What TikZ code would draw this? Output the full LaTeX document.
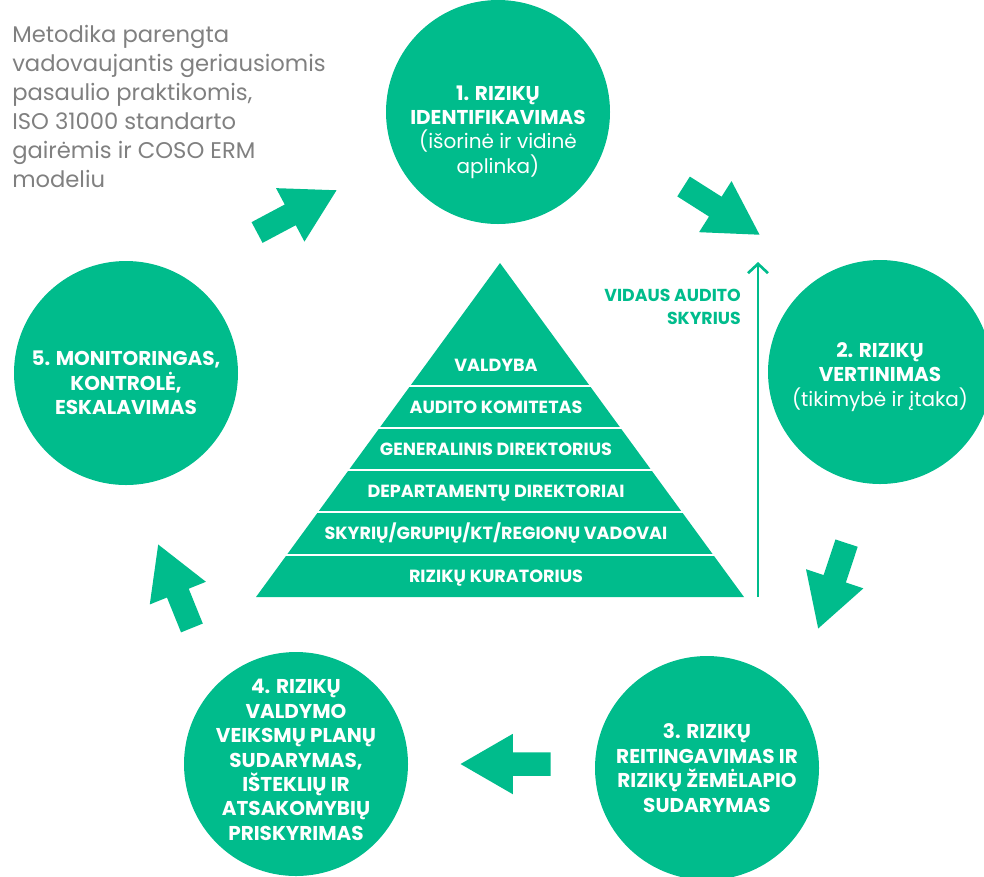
\documentclass[tikz,border=0pt]{standalone}
\usepackage{fontspec}
\setmainfont{Poppins}
\usetikzlibrary{positioning,shapes.arrows,arrows.meta}
\definecolor{riskgreen}{RGB}{0,188,140}
\definecolor{notegray}{RGB}{128,128,128}
\tikzset{>={Straight Barb[length=7pt,width=15pt]}}

\begin{document}
\begin{tikzpicture}[x=0.75pt,y=-0.75pt,
    phase/.style={circle,fill=riskgreen,minimum size=168pt,inner sep=0pt},
    phasetxt/.style={text=white,align=center,inner sep=0pt,
                     font=\bfseries\fontsize{15}{18.3}\selectfont},
    cyclearrow/.style={single arrow,fill=riskgreen,anchor=tip,
                       inner xsep=0pt,inner ysep=8.6pt,minimum height=67.5pt,
                       single arrow head extend=13.9pt,single arrow tip angle=60},
    level/.style={text=white,inner sep=0pt,text height=9.3pt,text depth=0pt,
                  font=\bfseries\fontsize{13.2}{15}\selectfont}]
  \useasboundingbox (0,0) rectangle (984,876);

  % the five steps of the cycle
  \node[phase] (c1) at (498,112) {};
  \node[phase] (c2) at (880,372) {};
  \node[phase] (c3) at (707,768) {};
  \node[phase] (c4) at (296,764) {};
  \node[phase] (c5) at (126,373) {};

  \node[phasetxt] (t1) at (498,132) {1. RIZIKŲ\\IDENTIFIKAVIMAS\\{\mdseries (išorinė ir vidinė}\\{\mdseries aplinka)}};
  \node[phasetxt] (t2) at (880,377) {2. RIZIKŲ\\VERTINIMAS\\{\mdseries (tikimybė ir įtaka)}};
  \node[phasetxt] (t3) at (707,768) {3. RIZIKŲ\\REITINGAVIMAS IR\\RIZIKŲ ŽEMĖLAPIO\\SUDARYMAS};
  \node[phasetxt] (t4) at (296,760) {4. RIZIKŲ\\VALDYMO\\VEIKSMŲ PLANŲ\\SUDARYMAS,\\IŠTEKLIŲ IR\\ATSAKOMYBIŲ\\PRISKYRIMAS};
  \node[phasetxt] (t5) at (126,383) {5. MONITORINGAS,\\KONTROLĖ,\\ESKALAVIMAS};

  % arrows between the steps
  \node[cyclearrow,rotate=28]     (a51) at (337,190) {};
  \node[cyclearrow,rotate=-32.4]  (a12) at (760,235) {};
  \node[cyclearrow,rotate=-108.4] (a23) at (818,629) {};
  \node[cyclearrow,rotate=180]    (a34) at (460,764) {};
  \node[cyclearrow,rotate=112]    (a45) at (158,544) {};

  % pyramid
  \coordinate (apex)  at (500,263);
  \coordinate (baseL) at (256,597);
  \coordinate (baseR) at (744,597);
  \fill[riskgreen] (apex) -- (baseL) -- (baseR) -- cycle;
  \foreach \y in {386,428,470,512,555}
    \draw[white,line width=2.2pt] (250,\y) -- (750,\y);
  \foreach \y/\txt in {365/VALDYBA,407/AUDITO KOMITETAS,449/GENERALINIS DIREKTORIUS,
                       491/DEPARTAMENTŲ DIREKTORIAI,533/{SKYRIŲ/GRUPIŲ/KT/REGIONŲ VADOVAI},
                       576/RIZIKŲ KURATORIUS}
    \node[level] (lv\y) at (496,\y) {\txt};

  % internal audit
  \coordinate (auditBot) at (758,597);
  \coordinate (auditTop) at (758,262);
  \draw[riskgreen,line width=2pt,->] (auditBot) -- (auditTop);
  \node[text=riskgreen,align=right,anchor=east,inner sep=0pt,
        font=\bfseries\fontsize{13}{17}\selectfont] (audit) at (741,307) {VIDAUS AUDITO\\SKYRIUS};

  % note
  \node[text=notegray,align=left,anchor=north west,inner sep=0pt,
        font=\fontsize{17}{21.75}\selectfont] (method) at (12,25)
        {Metodika parengta\\vadovaujantis geriausiomis\\pasaulio praktikomis,\\ISO 31000 standarto\\gairėmis ir COSO ERM\\modeliu};
\end{tikzpicture}
\end{document}
